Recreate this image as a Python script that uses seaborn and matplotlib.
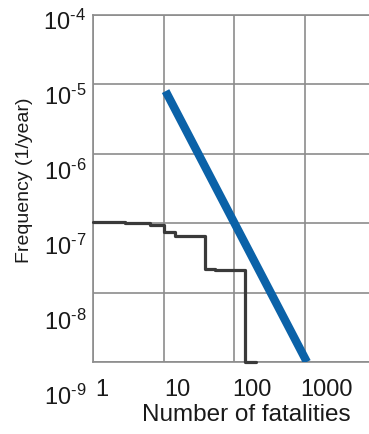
import matplotlib
matplotlib.use("Agg")
import matplotlib.pyplot as plt
import seaborn as sns

# ---- data ----
criterion_N = [10.7, 1080]
criterion_F = [8.0e-6, 1.0e-9]

fn_N = [1, 2.8, 6.4, 10.2, 14.6, 39, 54, 142, 205]
fn_F = [1.05e-7, 1.0e-7, 9.4e-8, 7.5e-8, 6.6e-8, 2.2e-8, 2.1e-8, 1e-9, 1e-9]

x_ticks = [1, 10, 100, 1000]
x_tick_labels = ["1", "10", "100", "1000"]
y_ticks = [1e-4, 1e-5, 1e-6, 1e-7, 1e-8, 1e-9]
y_tick_labels = ["$\\mathregular{10^{\u2010" + e + "}}$" for e in ["4", "5", "6", "7", "8", "9"]]
x_title = "Number of fatalities"
y_title = "Frequency (1/year)"

sns.set_style("white")
plt.rcParams["font.family"] = ["Liberation Sans", "DejaVu Sans"]
plt.rcParams["mathtext.fontset"] = "custom"
plt.rcParams["mathtext.rm"] = "Liberation Sans"
plt.rcParams["mathtext.it"] = "Liberation Sans:italic"
plt.rcParams["mathtext.bf"] = "Liberation Sans:bold"
plt.rcParams["mathtext.fallback"] = "cm"

W, H = 369, 434
fig = plt.figure(figsize=(W / 100, H / 100), dpi=100)
fig.patch.set_facecolor("white")

# main plotting axes
ax = fig.add_axes([93 / W, (H - 362) / H, (W - 93) / W, (362 - 15) / H])
ax.set_xscale("log")
ax.set_yscale("log")
ax.set_xlim(1, 8200)
ax.set_ylim(1e-9, 1e-4)
ax.set_xticks(x_ticks)
ax.set_yticks(y_ticks)
ax.minorticks_off()
ax.tick_params(labelleft=False, labelbottom=False, length=0)
ax.grid(True, which="major", color="#8c8c8c", lw=1.2)
for side in ["left", "bottom", "top"]:
    ax.spines[side].set_color("#8c8c8c")
    ax.spines[side].set_linewidth(1.2)
ax.spines["right"].set_visible(False)

sns.lineplot(x=fn_N, y=fn_F, ax=ax, drawstyle="steps-post", color="#3a3a3a",
             lw=2.3, estimator=None, sort=False, clip_on=False, zorder=3)
sns.lineplot(x=criterion_N, y=criterion_F, ax=ax, color="#0b62a8", lw=6,
             solid_capstyle="butt", estimator=None, zorder=4)

# axis titles
fig.text(246 / W, 1 - 421 / H, x_title, fontsize=17.5, ha="center", va="baseline",
         color="#1a1a1a")
fig.text(25 / W, 1 - 180 / H, y_title, fontsize=14, ha="center", va="center",
         rotation=90, color="#1a1a1a")

# label axes (tick labels sit slightly off the grid as in the reference)
axy = fig.add_axes([93 / W, (H - 395) / H, 0.001, (395 - 20) / H])
axy.set_yscale("log")
axy.set_ylim(1e-9, 1e-4)
axy.set_yticks(y_ticks)
axy.set_yticklabels(y_tick_labels, fontsize=17, color="#1a1a1a")
axy.minorticks_off()
axy.set_xticks([])
axy.tick_params(length=0, pad=5)
axy.patch.set_visible(False)
for s in axy.spines.values():
    s.set_visible(False)

axx = fig.add_axes([102 / W, (H - 362) / H, (327 - 102) / W, 0.001])
axx.set_xscale("log")
axx.set_xlim(1, 1000)
axx.set_xticks(x_ticks)
axx.set_xticklabels(x_tick_labels, fontsize=17, color="#1a1a1a")
axx.minorticks_off()
axx.set_yticks([])
axx.tick_params(length=0, pad=12)
axx.patch.set_visible(False)
for s in axx.spines.values():
    s.set_visible(False)

fig.savefig("out.png", dpi=100, facecolor="white")
